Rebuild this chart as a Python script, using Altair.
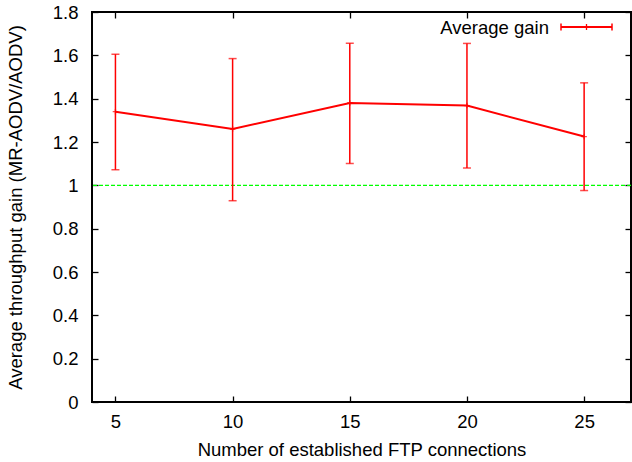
import altair as alt
import pandas as pd

# ---- data ----
connections = [5, 10, 15, 20, 25]
gain_mean = [1.340, 1.260, 1.380, 1.368, 1.225]
gain_low = [1.072, 0.929, 1.101, 1.080, 0.976]
gain_high = [1.605, 1.585, 1.656, 1.655, 1.473]
x_ticks = [5, 10, 15, 20, 25]
y_ticks = [0, 0.2, 0.4, 0.6, 0.8, 1, 1.2, 1.4, 1.6, 1.8]
reference_level = [1.0]
legend_label = ["Average gain"]

FONT = "Liberation Sans"
RED = "#ff0000"
FS = 18.5

df = pd.DataFrame({"n": connections, "mean": gain_mean, "low": gain_low, "high": gain_high})
ref = pd.DataFrame({"level": reference_level})
leg = pd.DataFrame({"label": legend_label})

xscale = alt.Scale(domain=[4, 27], nice=False, zero=False)
yscale = alt.Scale(domain=[0, 1.8], nice=False, zero=False)


def xaxis(orient, labels, title=None):
    kw = dict(orient=orient, values=x_ticks, labels=labels, domain=False, grid=False,
              ticks=True, tickSize=6, offset=-6, tickColor="black", tickWidth=1.3,
              labelPadding=10, labelFont=FONT, labelFontSize=FS, labelColor="black",
              labelFlush=False)
    if title:
        kw.update(title=title, titleFont=FONT, titleFontSize=FS, titleFontWeight="normal",
                  titleColor="black", titlePadding=10)
    else:
        kw.update(title=None)
    return alt.Axis(**kw)


def yaxis(orient, labels, title=None):
    kw = dict(orient=orient, values=y_ticks, labels=labels, domain=False, grid=False,
              ticks=True, tickSize=6, offset=-6, tickColor="black", tickWidth=1.3,
              labelPadding=14, labelFont=FONT, labelFontSize=FS, labelColor="black",
              format="~g", labelFlush=False)
    if title:
        kw.update(title=title, titleFont=FONT, titleFontSize=FS, titleFontWeight="normal",
                  titleColor="black", titlePadding=27)
    else:
        kw.update(title=None)
    return alt.Axis(**kw)


ref_rule = alt.Chart(ref).mark_rule(color="#00ff00", strokeDash=[4, 2], strokeWidth=1.4).encode(
    y=alt.Y("level:Q", scale=yscale,
            axis=yaxis("left", True, "Average throughput gain (MR-AODV/AODV)"))
)

frame_axes = alt.Chart(df).mark_point(opacity=0).encode(
    x=alt.X("n:Q", scale=xscale, axis=xaxis("bottom", True, "Number of established FTP connections")),
    y=alt.Y("mean:Q", scale=yscale, axis=yaxis("right", False)),
)

frame_axes2 = alt.Chart(df).mark_point(opacity=0).encode(
    x=alt.X("n:Q", scale=xscale, axis=xaxis("top", False)),
    y=alt.Y("mean:Q", scale=yscale, axis=None),
)

err = alt.Chart(df).mark_rule(color=RED, strokeWidth=1.5).encode(
    x=alt.X("n:Q", scale=xscale, axis=None),
    y=alt.Y("low:Q", scale=yscale, axis=None),
    y2="high:Q",
)

cap_low = alt.Chart(df).mark_tick(color=RED, orient="horizontal", size=8, thickness=1.5).encode(
    x=alt.X("n:Q", scale=xscale, axis=None),
    y=alt.Y("low:Q", scale=yscale, axis=None),
)
cap_high = alt.Chart(df).mark_tick(color=RED, orient="horizontal", size=8, thickness=1.5).encode(
    x=alt.X("n:Q", scale=xscale, axis=None),
    y=alt.Y("high:Q", scale=yscale, axis=None),
)

line = alt.Chart(df).mark_line(color=RED, strokeWidth=2).encode(
    x=alt.X("n:Q", scale=xscale, axis=None),
    y=alt.Y("mean:Q", scale=yscale, axis=None),
)

pts = alt.Chart(df).mark_point(shape="M-1,0H1M0,-1V1", color=RED, size=30, strokeWidth=1.3,
                               filled=False).encode(
    x=alt.X("n:Q", scale=xscale, axis=None),
    y=alt.Y("mean:Q", scale=yscale, axis=None),
)

# legend (manual, gnuplot style: label left of the sample)
leg_text = alt.Chart(leg).mark_text(font=FONT, fontSize=FS, align="right", baseline="middle",
                                    color="black").encode(
    text="label:N", x=alt.value(457), y=alt.value(16))
leg_line = alt.Chart(leg).mark_rule(color=RED, strokeWidth=2).encode(
    x=alt.value(469), x2=alt.value(520), y=alt.value(15))
leg_cap1 = alt.Chart(leg).mark_rule(color=RED, strokeWidth=1.5).encode(
    x=alt.value(469), y=alt.value(11.5), y2=alt.value(18.5))
leg_cap2 = alt.Chart(leg).mark_rule(color=RED, strokeWidth=1.5).encode(
    x=alt.value(520), y=alt.value(11.5), y2=alt.value(18.5))
leg_cap3 = alt.Chart(leg).mark_rule(color=RED, strokeWidth=1.3).encode(
    x=alt.value(494.5), y=alt.value(12), y2=alt.value(18))

chart = alt.layer(
    ref_rule, frame_axes, frame_axes2, err, cap_low, cap_high, line, pts,
    leg_text, leg_line, leg_cap1, leg_cap2, leg_cap3,
).resolve_axis(x="independent", y="independent").properties(
    width=539, height=390,
    autosize=alt.AutoSizeParams(type="none"),
    padding={"left": 92, "top": 12, "right": 1, "bottom": 60},
    background="white",
).configure_view(stroke="black", strokeWidth=2)

chart.save("out.html", embed_options={"renderer": "svg", "actions": False})
